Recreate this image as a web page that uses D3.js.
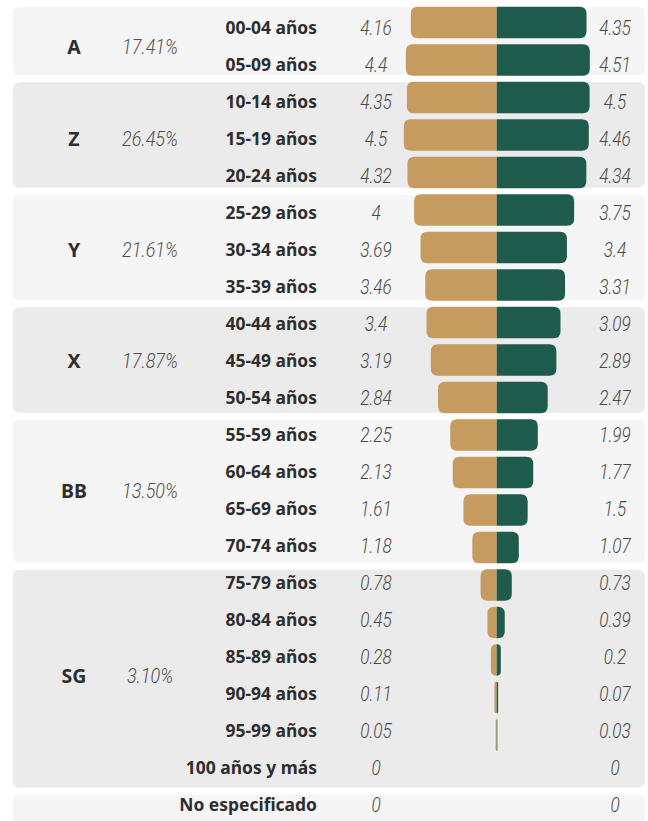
<!DOCTYPE html>
<html>
<head>
<meta charset="utf-8">
<script src="https://cdn.jsdelivr.net/npm/d3@7"></script>
<style>
  html, body { margin: 0; padding: 0; background: #ffffff; }
  svg { display: block; }
</style>
</head>
<body>
<svg id="chart" width="648" height="821"></svg>
<script>
// Age brackets, top to bottom
const ages = [
  "00-04 años", "05-09 años", "10-14 años", "15-19 años", "20-24 años",
  "25-29 años", "30-34 años", "35-39 años", "40-44 años", "45-49 años",
  "50-54 años", "55-59 años", "60-64 años", "65-69 años", "70-74 años",
  "75-79 años", "80-84 años", "85-89 años", "90-94 años", "95-99 años",
  "100 años y más", "No especificado"
];
// Share of population (%) per bracket — left (gold) and right (green)
const leftValues = [4.16, 4.4, 4.35, 4.5, 4.32, 4, 3.69, 3.46, 3.4, 3.19, 2.84,
  2.25, 2.13, 1.61, 1.18, 0.78, 0.45, 0.28, 0.11, 0.05, 0, 0];
const rightValues = [4.35, 4.51, 4.5, 4.46, 4.34, 3.75, 3.4, 3.31, 3.09, 2.89, 2.47,
  1.99, 1.77, 1.5, 1.07, 0.73, 0.39, 0.2, 0.07, 0.03, 0, 0];
// Generations: label, share, first and last bracket index
const genNames = ["A", "Z", "Y", "X", "BB", "SG", ""];
const genShares = ["17.41%", "26.45%", "21.61%", "17.87%", "13.50%", "3.10%", ""];
const genStart = [0, 2, 5, 8, 11, 15, 21];
const genEnd = [1, 4, 7, 10, 14, 20, 21];

const svg = d3.select("#chart");

// Bar rows
const y = d3.scaleBand()
  .domain(ages)
  .range([3.75, 828.75])
  .paddingInner(0.16)
  .paddingOuter(0.08);
const step = y.step();
const cy = a => y(a) + y.bandwidth() / 2;

// Text rows (label column runs on a slightly tighter pitch)
const ty = d3.scalePoint().domain(ages).range([28, 805]);

const cx = 496.7;
const xLeft = d3.scaleLinear().domain([0, 5]).range([cx, cx - 5 * 20.65]);
const xRight = d3.scaleLinear().domain([0, 5]).range([cx, cx + 5 * 20.65]);

const gold = "#c69b5f";
const green = "#1e5b4c";
const panelFills = ["#f5f5f5", "#ebebeb"];
const labelFont = "'Noto Sans', sans-serif";
const valueFont = "'Roboto', sans-serif";

// Narrowed italic number text
function numText(sel, x, yy, str, size, sx, fill) {
  sel.append("text")
    .attr("transform", `translate(${x},${yy}) scale(${sx},1)`)
    .attr("text-anchor", "middle")
    .attr("font-family", valueFont)
    .attr("font-style", "italic").attr("font-weight", 300).attr("font-size", size)
    .attr("fill", fill)
    .text(str);
}

// Narrowed bold label text, right- or centre-anchored
function boldText(sel, x, yy, str, size, sx, anchor) {
  sel.append("text")
    .attr("transform", `translate(${x},${yy}) scale(${sx},1)`)
    .attr("text-anchor", anchor)
    .attr("font-family", labelFont)
    .attr("font-weight", 700).attr("font-size", size)
    .attr("fill", "#2e2e2e")
    .text(str);
}

// Generation panels
const panels = svg.append("g");
genNames.forEach((g, i) => {
  const top = cy(ages[genStart[i]]) - step / 2 + 3.5;
  const bot = cy(ages[genEnd[i]]) + step / 2 - 3.5;
  panels.append("rect")
    .attr("x", 13).attr("y", top)
    .attr("width", 632).attr("height", bot - top)
    .attr("rx", 6).attr("ry", 6)
    .attr("fill", panelFills[i % 2]);
  if (g) {
    const mid = (ty(ages[genStart[i]]) + ty(ages[genEnd[i]])) / 2;
    boldText(panels, 74, mid + 7, g, 19.5, 1, "middle");
    numText(panels, 150, mid + 7, genShares[i], 20, 0.9, "#4f4f4f");
  }
});

// Bar with rounded outer end and square inner end
function halfBar(x0, x1, yTop, h, r) {
  const w = Math.abs(x1 - x0);
  const rr = Math.min(r, w, h / 2);
  const p = d3.path();
  const dir = x1 >= x0 ? 1 : -1;
  p.moveTo(x0, yTop);
  p.lineTo(x1 - dir * rr, yTop);
  p.quadraticCurveTo(x1, yTop, x1, yTop + rr);
  p.lineTo(x1, yTop + h - rr);
  p.quadraticCurveTo(x1, yTop + h, x1 - dir * rr, yTop + h);
  p.lineTo(x0, yTop + h);
  p.closePath();
  return p.toString();
}

const data = ages.map((a, i) => ({ age: a, l: leftValues[i], r: rightValues[i] }));
const rows = svg.append("g");

rows.selectAll("path.left")
  .data(data.filter(d => d.l > 0))
  .join("path").attr("class", "left")
  .attr("d", d => halfBar(xLeft(0), xLeft(d.l), y(d.age), y.bandwidth(), 7))
  .attr("fill", gold);
rows.selectAll("path.right")
  .data(data.filter(d => d.r > 0))
  .join("path").attr("class", "right")
  .attr("d", d => halfBar(xRight(0), xRight(d.r), y(d.age), y.bandwidth(), 7))
  .attr("fill", green);

data.forEach(d => {
  boldText(rows, 317, ty(d.age) + 6, d.age, 18, 0.97, "end");
  numText(rows, 376, ty(d.age) + 6.5, String(d.l), 19.5, 0.88, "#4a4a4a");
  numText(rows, 615, ty(d.age) + 6.5, String(d.r), 19.5, 0.88, "#4a4a4a");
});
</script>
</body>
</html>
